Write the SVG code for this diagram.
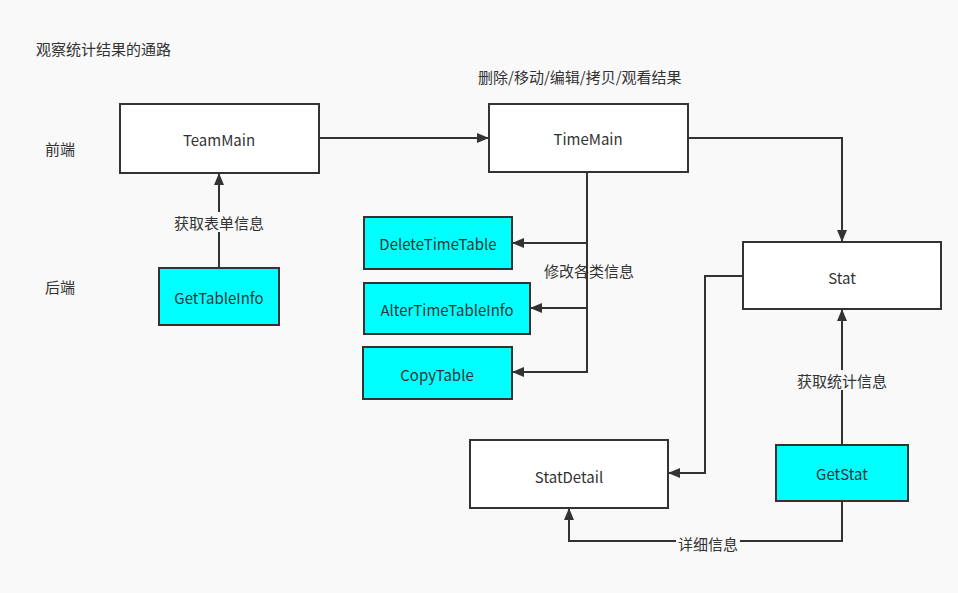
<svg xmlns="http://www.w3.org/2000/svg" width="958" height="593" viewBox="0 0 958 593">
<defs>
<marker id="arr" viewBox="0 0 12 10" refX="12" refY="5" markerWidth="12" markerHeight="10" markerUnits="userSpaceOnUse" orient="auto">
<path d="M0,0 L12,5 L0,10 Z" fill="#333"/>
</marker>
</defs>
<style>
text{font-family:"Noto Sans CJK SC","Microsoft YaHei","Liberation Sans",sans-serif;fill:#333;font-size:15px}
.n rect{stroke:#333;stroke-width:2}
.w{fill:#fff}
.c{fill:#00ffff}
.n text{text-anchor:middle;dominant-baseline:central}
.e path{fill:none;stroke:#333;stroke-width:2;marker-end:url(#arr)}
.lb{fill:#f9f9f9}
.lt{text-anchor:middle;dominant-baseline:central}
</style>
<rect width="958" height="593" fill="#f9f9f9"/>
<text x="36" y="55">观察统计结果的通路</text>
<text x="45" y="155">前端</text>
<text x="45" y="293">后端</text>
<text x="478" y="83">删除/移动/编辑/拷贝/观看结果</text>
<g id="connectors" class="e">
<path d="M319,138 H489"/>
<path d="M219,268 V173"/>
<path d="M587,172 V243 H512"/>
<path d="M587,308 H530"/>
<path d="M587,240 V372 H512"/>
<path d="M688,138 H842 V242"/>
<path d="M842,445 V309"/>
<path d="M743,276 H705 V473 H668"/>
<path d="M842,501 V541 H569 V508"/>
</g>
<g id="labels">
<rect class="lb" x="171" y="212" width="96" height="20"/>
<text class="lt" x="219" y="222">获取表单信息</text>
<text class="lt" x="589" y="270">修改各类信息</text>
<rect class="lb" x="794" y="370" width="96" height="20"/>
<text class="lt" x="842" y="380">获取统计信息</text>
<rect class="lb" x="676" y="533" width="64" height="20"/>
<text class="lt" x="708" y="543">详细信息</text>
</g>
<g id="TeamMain" class="n"><rect class="w" x="120" y="104" width="199" height="69"/><text x="219" y="139">TeamMain</text></g>
<g id="TimeMain" class="n"><rect class="w" x="489" y="104" width="199" height="68"/><text x="588" y="138">TimeMain</text></g>
<g id="GetTableInfo" class="n"><rect class="c" x="159" y="268" width="120" height="57"/><text x="219" y="297">GetTableInfo</text></g>
<g id="DeleteTimeTable" class="n"><rect class="c" x="364" y="217" width="148" height="52"/><text x="438" y="243">DeleteTimeTable</text></g>
<g id="AlterTimeTableInfo" class="n"><rect class="c" x="364" y="283" width="166" height="51"/><text x="447" y="309">AlterTimeTableInfo</text></g>
<g id="CopyTable" class="n"><rect class="c" x="363" y="347" width="149" height="52"/><text x="437" y="374">CopyTable</text></g>
<g id="Stat" class="n"><rect class="w" x="743" y="242" width="198" height="67"/><text x="842" y="277">Stat</text></g>
<g id="StatDetail" class="n"><rect class="w" x="470" y="440" width="198" height="68"/><text x="569" y="476">StatDetail</text></g>
<g id="GetStat" class="n"><rect class="c" x="776" y="445" width="132" height="56"/><text x="842" y="473">GetStat</text></g>
</svg>
